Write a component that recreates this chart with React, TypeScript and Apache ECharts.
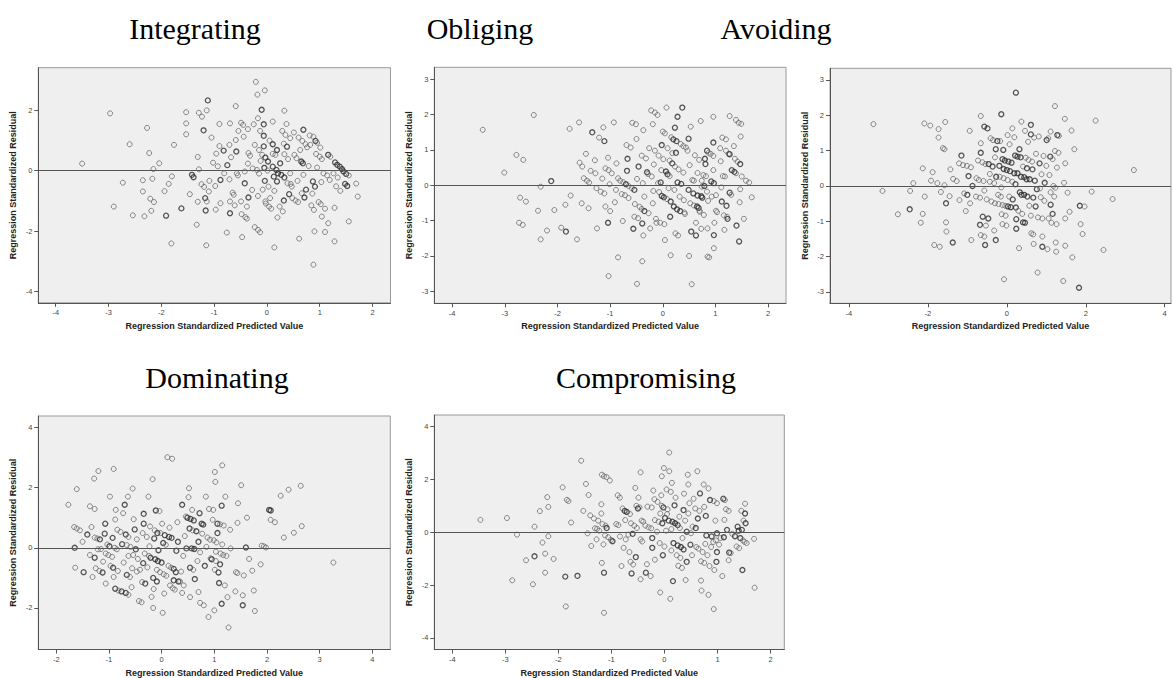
import React, { useEffect, useRef } from "react";
import * as echarts from "echarts";

// [predicted, residual, (2 = overlapping / darker ring)]
const integrating: number[][] = [[-3.50,0.23],[-2.97,1.89],[-2.90,-1.19],[-2.73,-0.40],[-2.60,0.87],[-2.54,-1.48],[-2.35,-0.32],[-2.35,-0.69],[-2.32,-1.51],[-2.27,1.41],[-2.23,0.58],[-2.21,-0.93],[-2.19,-1.33],[-2.17,-0.27],[-2.15,0.05],[-2.14,-1.04],[-2.04,0.24],[-1.94,-0.68],[-1.91,-1.49,2],[-1.86,-0.44],[-1.81,-2.41],[-1.80,-0.19],[-1.76,0.85],[-1.62,-1.25,2],[-1.53,1.93],[-1.53,1.56],[-1.53,1.20],[-1.46,-0.78],[-1.42,-0.14,2],[-1.39,-0.22,2],[-1.33,-1.79],[-1.31,0.45],[-1.31,-1.03],[-1.29,0.04],[-1.29,1.91],[-1.23,1.78],[-1.24,-0.45],[-1.20,1.33,2],[-1.19,-0.54],[-1.17,-0.91,2],[-1.16,-1.32,2],[-1.15,-2.47],[-1.14,1.99],[-1.12,2.32,2],[-1.14,-1.02],[-1.10,-0.69],[-1.09,-0.34],[-1.05,1.09],[-1.02,0.26],[-0.98,-0.51],[-0.97,-1.29],[-0.96,0.56],[-0.93,0.14],[-0.90,1.54],[-0.90,0.81],[-0.88,-0.31,2],[-0.88,-1.08],[-0.82,0.66,2],[-0.81,-0.09],[-0.76,-2.05],[-0.75,0.18,2],[-0.71,0.85],[-0.71,-0.29],[-0.70,-1.02],[-0.70,-1.41,2],[-0.70,1.56],[-0.68,0.44],[-0.65,-0.73],[-0.63,-0.80],[-0.61,-1.15],[-0.59,2.13],[-0.59,1.01],[-0.58,0.63,2],[-0.57,-0.09],[-0.55,-0.16],[-0.54,1.31],[-0.49,1.58],[-0.49,-1.02],[-0.48,-1.44],[-0.47,-2.20],[-0.45,1.51],[-0.44,1.12],[-0.42,-0.03],[-0.42,-0.42,2],[-0.41,-1.54],[-0.38,-1.59],[-0.38,-1.19],[-0.36,1.37],[-0.36,0.23],[-0.35,0.58],[-0.35,-0.89,2],[-0.32,0.49],[-0.28,-0.64],[-0.27,0.07],[-0.25,1.53],[-0.23,0.85],[-0.23,-1.87],[-0.21,2.93],[-0.19,0.02],[-0.18,2.51],[-0.17,-1.96],[-0.17,-0.84],[-0.17,1.73],[-0.15,-0.10],[-0.15,0.68],[-0.13,-2.04],[-0.13,1.31],[-0.12,0.32],[-0.10,2.01,2],[-0.09,0.52],[-0.08,-0.63],[-0.06,1.15,2],[-0.06,0.80,2],[-0.06,1.53,2],[-0.05,0.09,2],[-0.04,2.65],[-0.04,-0.34,2],[-0.03,-1.02],[-0.03,0.43,2],[-0.02,-1.09],[0.01,0.00],[0.02,0.30,2],[0.03,-0.53],[0.04,-1.19],[0.05,0.99],[0.06,-0.91],[0.08,-1.26],[0.11,1.62],[0.11,0.87,2],[0.11,0.55],[0.11,0.13,2],[0.13,-0.20,2],[0.14,-0.67],[0.14,-2.54],[0.16,0.52],[0.18,0.02,2],[0.19,0.68,2],[0.19,-0.36,2],[0.20,-1.55],[0.21,-0.09,2],[0.24,-1.19],[0.25,0.24,2],[0.27,-0.14,2],[0.29,1.31],[0.30,-1.35],[0.32,0.89],[0.32,-0.99,2],[0.33,0.54],[0.33,-0.23,2],[0.33,1.98],[0.35,1.18],[0.37,1.54],[0.38,0.79,2],[0.39,-0.42],[0.40,0.38],[0.42,-0.78,2],[0.44,1.07],[0.44,-0.09],[0.45,-0.44],[0.47,-0.53],[0.48,-0.91],[0.51,1.26],[0.52,0.52],[0.54,-0.99],[0.56,0.41],[0.58,-0.34],[0.59,-1.04],[0.60,1.09],[0.61,-2.25],[0.63,0.68],[0.65,0.30,2],[0.66,-0.75],[0.67,0.98],[0.68,0.24,2],[0.69,1.35,2],[0.69,-0.14],[0.71,-0.89,2],[0.73,0.87],[0.74,-0.63,2],[0.76,0.77],[0.79,0.15],[0.81,1.16],[0.82,0.85],[0.84,-1.15],[0.86,-0.76],[0.87,-0.36,2],[0.88,1.12],[0.89,-1.30],[0.90,-2.01],[0.88,-3.11],[0.91,-0.53,2],[0.92,0.98,2],[0.93,0.55],[0.95,0.92],[0.95,0.10],[0.98,-1.04],[1.00,0.46],[1.01,0.76],[1.02,-1.11],[1.03,-0.38],[1.04,0.38],[1.04,-1.52],[1.07,-0.09],[1.10,-2.03],[1.10,-1.26],[1.14,-0.16],[1.16,-1.74],[1.16,0.52,2],[1.19,-0.31],[1.20,0.46],[1.26,-0.09],[1.28,-2.34],[1.28,-1.23],[1.29,0.27,2],[1.31,-0.52],[1.33,0.19,2],[1.34,-0.23],[1.38,0.13,2],[1.39,-0.67],[1.42,0.05,2],[1.45,-0.03,2],[1.48,-0.44,2],[1.50,-0.11,2],[1.52,-0.51,2],[1.55,-0.16],[1.55,-1.68],[1.69,-0.43],[1.72,-0.86]];

const obliging: number[][] = [[-3.42,1.57],[-3.01,0.36],[-2.78,0.86],[-2.65,0.72],[-2.71,-0.35],[-2.60,-0.46],[-2.73,-1.06],[-2.66,-1.12],[-2.45,1.99],[-2.37,-0.72],[-2.32,-0.04],[-2.32,-1.53],[-2.20,-1.28],[-2.12,0.12,2],[-2.06,-0.70],[-1.93,-1.20],[-1.84,-1.31,2],[-1.85,-0.55],[-1.77,1.60],[-1.75,-0.29],[-1.63,-1.53],[-1.59,1.78],[-1.58,0.64],[-1.54,-0.51],[-1.53,0.53],[-1.50,0.20],[-1.46,0.89],[-1.44,0.13],[-1.41,-0.65],[-1.40,0.08],[-1.37,0.41],[-1.34,1.50,2],[-1.29,0.71],[-1.28,0.34],[-1.26,-0.08],[-1.25,-1.22],[-1.21,1.35],[-1.18,-0.18],[-1.15,0.19],[-1.13,1.64],[-1.11,-0.23],[-1.11,1.25,2],[-1.09,0.48],[-1.09,-0.60],[-1.04,-1.06,2],[-1.04,0.78],[-1.03,0.43],[-1.03,-2.57],[-1.01,0.03],[-1.00,-0.73],[-0.97,0.34],[-0.93,1.78],[-0.91,-0.48],[-0.89,-0.13],[-0.88,0.62],[-0.85,0.20],[-0.85,-2.04],[-0.81,0.13],[-0.78,-0.25],[-0.76,-1.01],[-0.75,0.09],[-0.72,-0.28],[-0.70,0.03,2],[-0.69,1.14],[-0.67,0.75,2],[-0.68,0.41,2],[-0.65,-0.02],[-0.65,-0.36],[-0.61,1.07],[-0.59,-0.08],[-0.58,1.77],[-0.56,-1.23,2],[-0.54,-0.13,2],[-0.53,-0.53],[-0.54,-0.89],[-0.51,1.73],[-0.50,1.31],[-0.49,0.18],[-0.49,-2.79],[-0.47,-0.93],[-0.46,0.53,2],[-0.44,-0.61],[-0.40,0.84],[-0.40,-0.67],[-0.39,-1.08,2],[-0.39,-2.15],[-0.38,0.06],[-0.37,1.56],[-0.37,-1.42],[-0.35,-0.73,2],[-0.35,-0.32],[-0.32,0.76],[-0.30,0.37,2],[-0.28,0.32],[-0.27,-0.79],[-0.26,1.05],[-0.24,-1.22],[-0.22,2.12],[-0.21,0.25],[-0.19,-0.51],[-0.19,1.73],[-0.18,-0.16],[-0.17,0.59],[-0.15,2.06],[-0.15,0.98],[-0.13,-0.95],[-0.12,-1.06],[-0.10,1.99],[-0.09,0.06],[-0.08,0.84],[-0.07,-0.19],[-0.05,-1.06],[-0.04,0.08,2],[-0.03,0.43],[-0.02,1.14,2],[-0.02,-0.30,2],[0.00,1.52],[0.01,0.74],[0.02,-0.34,2],[0.03,-1.10],[0.04,1.47],[0.04,-1.55],[0.06,0.39,2],[0.07,2.20],[0.08,-0.39],[0.09,1.05],[0.09,0.31,2],[0.11,-0.08],[0.13,0.26],[0.13,0.70],[0.14,-0.89,2],[0.15,-1.98],[0.15,-0.46,2],[0.16,1.36],[0.18,0.62,2],[0.18,0.91],[0.20,1.30,2],[0.21,-0.60,2],[0.22,-0.13],[0.23,1.63,2],[0.23,0.53],[0.24,-1.36],[0.25,0.92,2],[0.26,1.25,2],[0.27,-0.68,2],[0.28,1.94,2],[0.28,0.08,2],[0.29,-1.42],[0.30,0.45],[0.32,-0.32],[0.33,-0.73,2],[0.34,1.17],[0.35,0.04,2],[0.37,2.20,2],[0.39,1.11],[0.39,0.36],[0.40,-0.42],[0.41,-0.77],[0.42,-0.81],[0.44,1.07],[0.47,0.98],[0.49,1.32,2],[0.49,-0.13,2],[0.50,-2.00],[0.51,0.57],[0.52,-0.51],[0.53,1.66],[0.54,-1.31,2],[0.55,-2.80],[0.56,0.15],[0.58,-0.23,2],[0.59,-0.57],[0.59,0.13],[0.61,0.85],[0.63,-1.06],[0.63,-1.42,2],[0.65,-0.60,2],[0.66,0.35],[0.66,-0.29,2],[0.68,-0.64,2],[0.69,0.72],[0.70,-0.72],[0.70,-0.75],[0.72,1.82],[0.73,-0.31,2],[0.73,-1.23],[0.74,0.13],[0.74,-0.04],[0.75,-0.35,2],[0.77,0.29],[0.78,-0.84],[0.79,-0.02,2],[0.80,0.75,2],[0.81,0.60,2],[0.82,0.26],[0.84,-0.18],[0.84,0.98,2],[0.85,-1.22],[0.86,-0.44],[0.87,0.92],[0.85,-2.02],[0.88,-2.04],[0.91,0.89],[0.92,0.11,2],[0.93,-0.32],[0.96,0.83],[0.96,1.94],[0.96,1.21,2],[0.96,0.43],[0.97,-1.41,2],[0.97,-1.78],[0.97,0.06,2],[0.98,-1.06],[1.01,-0.28],[1.01,-0.72],[1.03,-0.76],[1.09,1.05],[1.10,0.68],[1.11,-0.06],[1.12,-0.46,2],[1.13,1.35],[1.14,0.26],[1.16,-0.85],[1.17,-1.26],[1.18,0.25],[1.20,1.30],[1.20,0.98],[1.21,-0.58,2],[1.22,-0.89],[1.23,-0.95,2],[1.25,0.89],[1.27,0.88,2],[1.27,1.96],[1.27,-0.21,2],[1.30,-0.27],[1.31,0.43,2],[1.35,1.11],[1.36,0.38,2],[1.37,0.75],[1.39,1.85],[1.39,0.34],[1.40,-1.14,2],[1.42,0.67],[1.44,1.77],[1.45,-1.59,2],[1.46,-0.48],[1.47,0.60,2],[1.48,1.38],[1.49,1.74],[1.47,-0.11],[1.50,0.25],[1.54,-0.95],[1.58,0.13],[1.64,0.08],[1.69,-0.34]];

const avoiding: number[][] = [[-3.38,1.75],[-3.15,-0.14],[-2.76,-0.80],[-2.46,-0.66,2],[-2.45,-0.14],[-2.37,0.08],[-2.18,-1.04],[-2.13,0.50],[-2.13,-0.79],[-2.09,1.77],[-2.08,-0.30],[-1.94,1.71],[-1.92,0.15],[-1.88,0.39],[-1.84,-1.67],[-1.76,0.08],[-1.73,1.37],[-1.73,1.61],[-1.70,-1.72],[-1.67,-0.17],[-1.62,1.07],[-1.58,1.04],[-1.58,0.02],[-1.56,1.81],[-1.54,-0.49,2],[-1.54,-1.03],[-1.53,-1.29],[-1.45,-0.29],[-1.43,0.47],[-1.37,-1.60,2],[-1.36,0.20],[-1.27,0.14],[-1.21,0.64],[-1.20,-0.40],[-1.15,0.86,2],[-1.11,0.59],[-1.08,-0.21],[-1.04,-0.71],[-1.01,0.57],[-1.00,-0.25,2],[-0.97,0.28,2],[-0.94,1.56],[-0.93,-0.49],[-0.91,0.53],[-0.90,-1.53],[-0.87,0.00,2],[-0.78,-0.30],[-0.77,0.22],[-0.73,0.72],[-0.71,0.17],[-0.68,-0.33],[-0.66,1.98],[-0.66,0.94,2],[-0.66,1.21],[-0.68,-1.10,2],[-0.66,-1.39],[-0.62,0.67],[-0.61,-0.87,2],[-0.59,0.14],[-0.57,1.68,2],[-0.57,-0.13],[-0.57,-1.43],[-0.55,-1.67,2],[-0.54,0.62],[-0.53,-1.12],[-0.51,-0.38],[-0.49,1.63,2],[-0.47,-0.92,2],[-0.46,0.62,2],[-0.43,0.34],[-0.43,0.12],[-0.41,1.35],[-0.39,-0.44],[-0.36,0.55,2],[-0.35,1.30],[-0.32,0.08],[-0.32,-1.26],[-0.30,0.81],[-0.30,-0.49],[-0.28,1.04,2],[-0.28,-1.53,2],[-0.27,0.26,2],[-0.24,1.27,2],[-0.22,-0.25],[-0.21,-0.51],[-0.19,0.57,2],[-0.18,0.26],[-0.17,1.27],[-0.15,-0.30],[-0.14,2.03,2],[-0.14,-0.04],[-0.13,-0.80],[-0.11,0.76,2],[-0.11,-0.54],[-0.11,-1.08],[-0.09,1.02,2],[-0.08,0.22],[-0.08,0.48,2],[-0.07,-2.64],[-0.05,0.72,2],[-0.04,-0.56],[-0.03,-0.84],[-0.01,-1.12],[0.00,0.45,2],[0.02,1.44],[0.02,0.17],[0.03,-0.58,2],[0.04,0.69,2],[0.06,-0.30],[0.07,1.18],[0.08,0.42,2],[0.10,-0.60,2],[0.12,0.66,2],[0.14,0.12],[0.14,1.63],[0.15,-0.38,2],[0.19,0.36,2],[0.19,1.38],[0.21,0.86,2],[0.22,0.05,2],[0.23,2.64,2],[0.23,-0.61,2],[0.24,-0.94,2],[0.24,-1.21,2],[0.27,0.36,2],[0.27,0.83,2],[0.29,-0.70],[0.31,-1.76],[0.32,1.04,2],[0.33,-0.18,2],[0.35,0.81,2],[0.36,0.26,2],[0.37,1.82],[0.37,-0.25,2],[0.39,-0.79],[0.41,-1.03,2],[0.41,0.55],[0.44,0.25,2],[0.44,-0.25,2],[0.46,-1.04,2],[0.46,1.56],[0.48,0.80],[0.50,0.19,2],[0.51,0.50,2],[0.52,-0.30,2],[0.54,1.25],[0.55,0.74],[0.57,-0.56],[0.58,0.19,2],[0.61,1.73,2],[0.61,1.46,2],[0.61,-0.84],[0.62,-1.34],[0.64,0.69],[0.65,0.47,2],[0.67,-0.33,2],[0.67,-1.37],[0.68,-1.64],[0.69,1.37],[0.71,0.15,2],[0.73,-0.58,2],[0.74,0.91],[0.76,-0.09,2],[0.78,-2.45],[0.79,-0.89],[0.81,1.40],[0.83,0.64,2],[0.84,-0.07],[0.86,-0.32],[0.88,0.33],[0.90,-1.43],[0.90,-1.72,2],[0.90,-0.92],[0.93,0.85],[0.95,-0.42],[0.96,0.09,2],[1.00,0.57],[1.01,1.30,2],[1.03,-1.79],[1.05,1.35],[1.06,-0.92],[1.08,0.31],[1.10,0.83,2],[1.11,1.54],[1.11,-0.53,2],[1.11,-0.18],[1.13,-1.04],[1.16,-0.79,2],[1.16,0.76],[1.18,0.00],[1.20,-0.30],[1.22,2.26],[1.22,0.99],[1.23,-0.05],[1.24,-1.60],[1.25,-1.86],[1.26,-1.08],[1.27,0.52],[1.28,1.44,2],[1.31,0.94],[1.32,1.42],[1.43,-2.69],[1.45,0.09],[1.47,1.90],[1.48,0.64],[1.48,-0.92],[1.48,-1.69],[1.54,-0.19],[1.59,-0.73],[1.64,1.57],[1.66,-2.02],[1.71,1.04],[1.83,-2.88,2],[1.85,-0.56,2],[1.87,-1.08],[1.92,-1.36],[1.97,-0.58],[2.15,-0.16],[2.25,1.85],[2.45,-1.81],[2.68,-0.37],[3.22,0.45]];

const dominating: number[][] = [[-1.77,1.43],[-1.66,0.69],[-1.65,0.00,2],[-1.64,-0.66],[-1.61,0.64],[-1.61,1.95],[-1.55,0.58],[-1.50,0.20],[-1.48,-0.81,2],[-1.41,0.44,2],[-1.36,1.38],[-1.36,-0.24],[-1.33,0.69],[-1.31,-0.97],[-1.28,2.30],[-1.27,-0.33,2],[-1.27,0.34],[-1.27,1.29],[-1.25,-0.68],[-1.22,0.31],[-1.21,-0.05],[-1.20,2.55],[-1.18,-0.77],[-1.17,0.28,2],[-1.15,-0.04],[-1.12,-0.82,2],[-1.11,-0.46],[-1.08,0.47,2],[-1.07,0.80,2],[-1.06,-0.19],[-1.06,-1.19],[-1.03,0.11],[-1.01,-0.24],[-0.99,0.05,2],[-0.98,1.70],[-0.97,-0.60],[-0.94,-0.30],[-0.93,0.33,2],[-0.92,-0.66,2],[-0.91,2.62],[-0.91,-0.97],[-0.89,0.00],[-0.88,0.94],[-0.88,-1.36,2],[-0.87,1.26],[-0.85,-0.05],[-0.84,0.60],[-0.83,-0.77],[-0.82,-1.42],[-0.78,0.53],[-0.76,-1.45,2],[-0.75,0.12,2],[-0.73,1.15],[-0.72,-0.49],[-0.70,1.43,2],[-0.68,0.44,2],[-0.68,-1.50,2],[-0.66,0.09],[-0.66,-0.90,2],[-0.64,1.70],[-0.63,-0.27],[-0.63,-1.56],[-0.63,0.36],[-0.60,-0.97],[-0.59,0.03],[-0.57,-1.31],[-0.56,-0.68],[-0.55,1.97],[-0.54,-0.24],[-0.53,0.95],[-0.51,0.61,2],[-0.49,-0.05,2],[-0.47,0.28],[-0.47,-0.79],[-0.45,-0.37],[-0.43,-1.77],[-0.41,-0.73],[-0.38,-1.81],[-0.37,-1.14],[-0.36,0.49],[-0.35,-0.51,2],[-0.34,1.13,2],[-0.34,0.80,2],[-0.32,-0.19],[-0.31,-1.19,2],[-0.28,0.36],[-0.27,-0.65],[-0.25,1.70],[-0.24,-0.27],[-0.23,0.05],[-0.22,0.71],[-0.21,-0.33,2],[-0.19,-1.63],[-0.17,2.28],[-0.16,-1.00,2],[-0.16,-2.00],[-0.15,-1.37],[-0.14,0.31,2],[-0.13,0.58],[-0.12,-0.38,2],[-0.11,1.24,2],[-0.09,-0.73],[-0.09,-1.12,2],[-0.08,0.49,2],[-0.07,-0.44,2],[-0.06,-0.08,2],[-0.04,1.22],[-0.03,-0.81],[-0.02,0.49],[0.00,-0.49,2],[0.01,0.80],[0.02,-2.16],[0.03,0.16,2],[0.04,-0.88],[0.05,-1.52],[0.06,0.42,2],[0.08,0.10],[0.09,-0.93],[0.11,3.01],[0.13,-0.60],[0.14,0.36,2],[0.15,0.67],[0.16,-1.25],[0.18,-0.66],[0.19,0.33,2],[0.20,2.96],[0.21,-1.34],[0.23,-0.70,2],[0.23,-1.08,2],[0.25,-1.39],[0.27,-0.81,2],[0.28,-0.10,2],[0.30,0.85],[0.31,0.20,2],[0.32,-1.12,2],[0.35,-1.12],[0.37,-0.79],[0.39,1.43,2],[0.39,-1.50],[0.41,-0.27],[0.42,-1.25],[0.44,0.39],[0.46,1.04],[0.47,-0.02,2],[0.49,1.00,2],[0.51,1.68],[0.52,1.98],[0.53,0.64,2],[0.54,-0.66,2],[0.54,-1.64],[0.55,0.96,2],[0.57,-0.02,2],[0.58,1.26],[0.59,0.58],[0.60,-0.73],[0.61,0.91,2],[0.62,-0.04,2],[0.63,-1.04,2],[0.66,0.55,2],[0.68,-0.44],[0.70,0.20,2],[0.70,-1.47],[0.72,1.15,2],[0.73,-0.15],[0.73,-1.83],[0.76,0.80,2],[0.77,0.47],[0.79,0.77,2],[0.80,-1.91],[0.82,-0.60,2],[0.84,1.70],[0.85,0.03],[0.87,0.34],[0.89,-2.30],[0.90,1.29],[0.92,0.27],[0.93,-0.35],[0.95,-0.38,2],[0.97,0.93],[0.98,1.26],[0.99,0.25],[1.00,-2.08],[1.01,-0.73],[1.01,2.52],[1.02,2.19],[1.03,-0.44],[1.03,-0.13],[1.04,0.18],[1.06,0.80,2],[1.06,0.49,2],[1.08,-0.82,2],[1.09,-1.17,2],[1.11,0.78],[1.11,-0.55,2],[1.12,-0.19],[1.14,1.40,2],[1.14,-1.86,2],[1.15,2.74],[1.15,0.11],[1.17,-0.24],[1.18,0.74],[1.20,-1.25],[1.21,1.70],[1.23,-0.27],[1.25,-1.64],[1.27,-2.65],[1.30,0.60],[1.31,-0.02],[1.40,-1.45],[1.41,-0.81],[1.44,-0.84],[1.44,0.83],[1.45,1.48],[1.51,2.08],[1.54,-1.58],[1.54,-1.91,2],[1.56,-0.92],[1.60,0.01,2],[1.62,1.00],[1.66,-0.37],[1.72,-0.76],[1.75,-1.42],[1.77,-2.10],[1.88,-0.55],[1.90,0.07],[1.94,0.05],[1.98,0.01],[2.04,1.26,2],[2.07,0.93],[2.07,1.24,2],[2.15,0.85],[2.26,1.73],[2.32,0.34],[2.41,1.93],[2.51,0.50],[2.64,2.06],[2.66,0.72],[3.26,-0.49]];

const compromising: number[][] = [[-3.47,0.47],[-2.97,0.54],[-2.87,-1.82],[-2.78,-0.09],[-2.61,-1.06],[-2.48,-1.97],[-2.45,0.21],[-2.45,-0.91,2],[-2.35,0.80],[-2.30,-0.39],[-2.25,-0.81],[-2.25,-1.53],[-2.21,1.33],[-2.19,0.96],[-2.19,-0.15],[-2.09,-1.01],[-1.92,1.70],[-1.87,-1.68,2],[-1.86,-2.81],[-1.84,1.23],[-1.81,1.18],[-1.76,0.37],[-1.64,-1.65,2],[-1.57,2.71],[-1.53,0.81],[-1.48,1.83],[-1.45,-0.04],[-1.43,1.41],[-1.40,0.64],[-1.38,-0.52],[-1.33,0.52],[-1.31,0.15],[-1.28,-0.27],[-1.27,0.13],[-1.25,0.44],[-1.23,0.06],[-1.19,0.71],[-1.19,1.06],[-1.18,-1.16],[-1.18,2.18],[-1.17,0.31],[-1.15,-0.46],[-1.14,-1.53,2],[-1.14,-3.05],[-1.14,2.12],[-1.12,-0.12],[-1.11,0.25],[-1.09,2.09],[-1.09,0.16,2],[-1.06,-0.19],[-1.03,1.96],[-1.01,-0.29],[-0.98,-0.34,2],[-0.91,0.31],[-0.88,1.40],[-0.87,0.27],[-0.84,1.31],[-0.84,-0.16],[-0.81,-1.28],[-0.79,0.90],[-0.77,-0.59],[-0.75,0.81,2],[-0.74,0.46],[-0.73,-0.27],[-0.71,0.77,2],[-0.68,-0.09],[-0.66,-0.75],[-0.65,0.69],[-0.64,-1.12],[-0.63,0.34],[-0.62,-1.56,2],[-0.60,-0.06,2],[-0.59,-1.22],[-0.57,0.25],[-0.55,1.68],[-0.54,-0.94,2],[-0.53,1.00],[-0.52,0.16],[-0.50,0.90,2],[-0.49,1.31],[-0.47,0.94],[-0.45,-0.27],[-0.45,2.27],[-0.45,-1.78],[-0.43,0.44],[-0.42,-0.35],[-0.40,0.40],[-0.36,0.25],[-0.35,-1.53,2],[-0.33,-1.21],[-0.32,0.97],[-0.30,0.19],[-0.26,-1.66],[-0.25,0.15],[-0.24,0.94],[-0.23,-0.22,2],[-0.23,-0.59,2],[-0.21,1.58],[-0.19,1.25],[-0.18,-1.04],[-0.18,0.46],[-0.14,0.02],[-0.13,1.15],[-0.11,0.40],[-0.09,-0.41],[-0.08,-2.28],[-0.08,0.71],[-0.06,1.40],[-0.05,2.12],[-0.05,1.00],[-0.04,0.34,2],[-0.03,-0.87,2],[-0.02,0.94,2],[-0.01,2.43],[0.00,-0.54],[0.01,0.54,2],[0.03,0.06],[0.04,1.62],[0.05,0.69],[0.06,0.87],[0.08,0.44,2],[0.09,2.31],[0.09,3.02],[0.11,-2.52],[0.12,1.53],[0.13,0.12],[0.13,-0.69],[0.14,1.87],[0.15,0.40,2],[0.16,-1.85,2],[0.17,-0.41,2],[0.19,1.02,2],[0.20,0.34,2],[0.21,1.31],[0.23,-0.87],[0.25,0.27,2],[0.25,-0.50,2],[0.26,-1.27],[0.28,0.59],[0.29,0.16],[0.30,-0.97],[0.31,-0.56,2],[0.33,-1.35],[0.34,-0.22],[0.36,0.84,2],[0.36,-0.65,2],[0.37,1.46],[0.39,0.44],[0.40,-1.81],[0.42,0.02,2],[0.42,-1.12,2],[0.44,2.18],[0.45,1.81],[0.45,0.71],[0.47,1.10],[0.49,-0.47,2],[0.50,-0.04],[0.52,-0.87],[0.53,0.21],[0.55,1.27],[0.58,0.90],[0.59,0.16,2],[0.60,-0.56],[0.62,2.31],[0.63,0.52,2],[0.64,-0.62],[0.66,0.81],[0.67,1.47,2],[0.69,-1.83],[0.69,-1.10],[0.70,-2.21],[0.72,-0.75],[0.74,1.81],[0.75,0.96],[0.75,-1.16],[0.77,-0.44],[0.78,0.62,2],[0.79,-0.12,2],[0.81,-0.87],[0.83,1.66],[0.83,-2.37],[0.85,-1.28],[0.86,1.22,2],[0.88,-0.56],[0.89,-0.16,2],[0.92,-0.37],[0.93,1.18],[0.93,-2.91],[0.94,-1.43],[0.96,0.44],[0.97,-0.31],[0.98,-1.12,2],[0.99,1.10],[0.99,-0.04,2],[0.99,-0.75,2],[1.03,-0.47],[1.06,-0.22],[1.09,-1.66],[1.11,1.27,2],[1.12,-0.19,2],[1.13,0.47],[1.14,1.22],[1.16,0.87],[1.18,0.09,2],[1.21,0.81],[1.21,-1.06],[1.22,-0.77,2],[1.25,-0.79],[1.28,-0.06],[1.33,-0.15,2],[1.36,-0.54],[1.38,0.21,2],[1.40,0.06,2],[1.41,-0.60],[1.43,-0.22,2],[1.45,0.81],[1.46,0.09,2],[1.47,-1.43,2],[1.48,-0.31],[1.49,0.44],[1.51,-0.37],[1.52,1.08],[1.52,0.71,2],[1.53,0.34,2],[1.55,-0.41],[1.69,-0.25],[1.70,-2.10]];

const titles = ["Integrating", "Obliging", "Avoiding", "Dominating", "Compromising"];
const xAxisTitle = "Regression Standardized Predicted Value";
const yAxisTitle = "Regression Standardized Residual";

const xTicksStd = [-4, -3, -2, -1, 0, 1, 2];
const xTicksAvoiding = [-4, -2, 0, 2, 4];
const xTicksDominating = [-2, -1, 0, 1, 2, 3, 4];
const yTicksIntegrating = [-4, -2, 0, 2];
const yTicksThree = [-3, -2, -1, 0, 1, 2, 3];
const yTicksDominating = [-2, 0, 2, 4];
const yTicksCompromising = [-4, -2, 0, 2, 4];

const xRanges = [[-4.33, 2.34], [-4.34, 2.34], [-4.48, 4.16], [-2.34, 4.34], [-4.34, 2.26]];
const yRanges = [[-4.37, 3.40], [-3.34, 3.34], [-3.32, 3.33], [-3.38, 4.38], [-4.44, 4.44]];

const SANS = '"Liberation Sans", Arial, sans-serif';
const SERIF = '"Liberation Serif", "Times New Roman", serif';

const layout = [
  { left: 38.3, top: 67.7, width: 352.2, height: 235.1, tx: 195, ty: 28.5 },
  { left: 434.3, top: 67.3, width: 351.7, height: 236, tx: 480, ty: 28.5 },
  { left: 830, top: 68.3, width: 341, height: 235, tx: 776, ty: 28.5 },
  { left: 38.3, top: 416, width: 352, height: 236.3, tx: 217, ty: 377.5 },
  { left: 434.3, top: 415, width: 350, height: 236.7, tx: 646, ty: 377.5 },
];

const seriesData = [integrating, obliging, avoiding, dominating, compromising];
const xTickSets = [xTicksStd, xTicksStd, xTicksAvoiding, xTicksDominating, xTicksStd];
const yTickSets = [yTicksIntegrating, yTicksThree, yTicksThree, yTicksDominating, yTicksCompromising];

export default function App() {
  const ref = useRef<HTMLDivElement>(null);
  useEffect(() => {
    if (!ref.current) return;
    const chart = echarts.init(ref.current, null, { renderer: "svg" });
    const axisLine = { show: true, onZero: false, lineStyle: { color: "#555", width: 1 } };
    const labelStyle = { fontFamily: SANS, fontSize: 7.5, color: "#444" };
    const nameStyle = { fontFamily: SANS, fontSize: 9, fontWeight: "bold" as const, color: "#222" };
    const option: any = {
      animation: false,
      backgroundColor: "#ffffff",
      grid: layout.map((l) => ({
        left: l.left, top: l.top, width: l.width, height: l.height,
        show: true, backgroundColor: "#efefef", borderColor: "#999", borderWidth: 1,
        containLabel: false,
      })),
      xAxis: layout.map((_, i) => ({
        gridIndex: i, type: "value", min: xRanges[i][0], max: xRanges[i][1],
        name: xAxisTitle, nameLocation: "middle", nameGap: 18.5, nameTextStyle: nameStyle,
        axisLine,
        axisTick: { show: true, customValues: xTickSets[i], length: 4, lineStyle: { color: "#555" } },
        axisLabel: { ...labelStyle, customValues: xTickSets[i], margin: 6 },
        splitLine: { show: false },
      })),
      yAxis: layout.map((_, i) => ({
        gridIndex: i, type: "value", min: yRanges[i][0], max: yRanges[i][1],
        name: yAxisTitle, nameLocation: "middle", nameGap: 21, nameRotate: 90, nameTextStyle: nameStyle,
        axisLine,
        axisTick: { show: true, customValues: yTickSets[i], length: 4, lineStyle: { color: "#555" } },
        axisLabel: { ...labelStyle, customValues: yTickSets[i], margin: 6 },
        splitLine: { show: false },
      })),
      series: seriesData.map((pts, i) => ({
        type: "scatter",
        xAxisIndex: i,
        yAxisIndex: i,
        symbol: "circle",
        symbolSize: 5,
        silent: true,
        itemStyle: { color: "rgba(0,0,0,0)", borderColor: "#6a6a6a", borderWidth: 1 },
        emphasis: { disabled: true },
        data: pts.map((p) =>
          p[2]
            ? { value: [p[0], p[1]], itemStyle: { color: "rgba(0,0,0,0)", borderColor: "#2a2a2a", borderWidth: 1.3 } }
            : [p[0], p[1]]
        ),
        markLine: {
          silent: true,
          symbol: ["none", "none"],
          label: { show: false },
          lineStyle: { color: "#555", type: "solid", width: 1 },
          data: [{ yAxis: 0 }],
        },
      })),
      graphic: layout.map((l, i) => ({
        type: "text",
        x: l.tx,
        y: l.ty,
        style: {
          text: titles[i],
          fontFamily: SERIF,
          fontSize: 30,
          fill: "#000",
          align: "center",
          verticalAlign: "middle",
        },
      })),
    };
    chart.setOption(option);
    return () => chart.dispose();
  }, []);
  return (
    <div
      ref={ref}
      style={{ position: "absolute", left: 0, top: 0, width: 1174, height: 678, background: "#fff" }}
    />
  );
}
